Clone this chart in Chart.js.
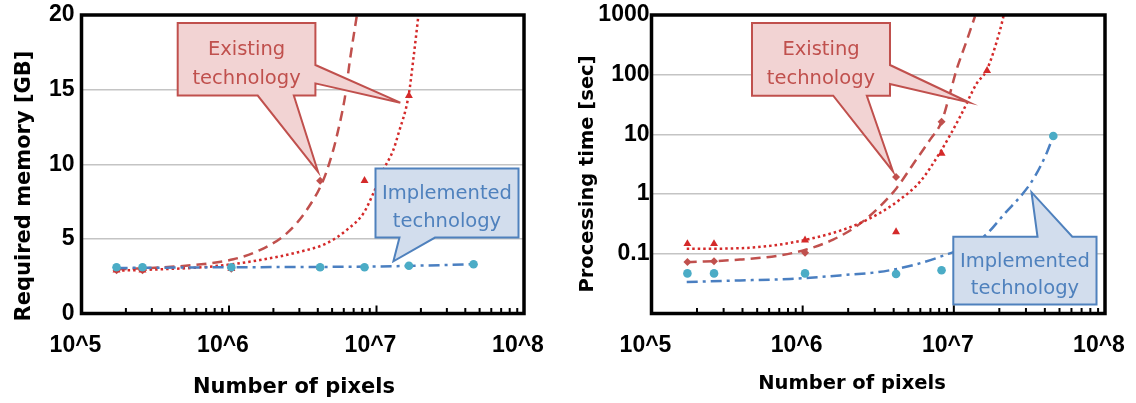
<!DOCTYPE html>
<html>
<head>
<meta charset="utf-8">
<script src="https://cdn.jsdelivr.net/npm/chart.js@4.4.1/dist/chart.umd.min.js"></script>
<style>
  html, body { margin: 0; padding: 0; background: #fff; }
  #wrap { position: relative; width: 1136px; height: 403px; }
  .pane { position: absolute; top: 0; height: 403px; }
  #left { left: 0; width: 560px; }
  #right { left: 560px; width: 576px; }
</style>
</head>
<body>
<div id="wrap">
  <div class="pane" id="left"><canvas id="chart1"></canvas></div>
  <div class="pane" id="right"><canvas id="chart2"></canvas></div>
</div>
<script>
/** Datos */

// numero de pixeles de cada prueba
const pixelCounts = [172800, 259200, 1036800, 4147200, 8294400, 16588800, 45500000];

// memoria requerida [GB]
const memImplemented = [3.1, 3.1, 3.1, 3.1, 3.1, 3.2, 3.3];          // todos los pixelCounts
const memExistingDiamond = [2.9, 2.9, 3.0, 8.9];                       // primeros 4
const memExistingTriangle = [2.9, 2.9, 3.0, 3.1, 8.9, 14.6];           // primeros 6

// tiempo de proceso [sec]
const timeImplementedX = [172800, 259200, 1036800, 4147200, 8294400, 45500000];
const timeImplemented = [0.047, 0.047, 0.047, 0.046, 0.053, 9.4];
const timeExistingDiamond = [0.073, 0.075, 0.104, 1.93, 16.3];         // primeros 5
const timeExistingTriangle = [0.147, 0.147, 0.169, 0.233, 4.8, 117];   // primeros 6

// lineas de tendencia (leidas punto a punto)
const memTrendDashX = [1.73e5, 2.62e5, 5.73e5, 1.07e6, 1.62e6, 2.46e6, 3.36e6, 4.36e6, 5.09e6, 5.37e6, 6.11e6, 6.61e6, 7.34e6];
const memTrendDash = [2.96, 3.03, 3.25, 3.63, 4.25, 5.37, 6.93, 8.94, 10.95, 11.85, 14.5, 17.0, 19.9];
const memTrendDotX = [1.73e5, 3.40e5, 7.43e5, 1.62e6, 3.03e6, 4.59e6, 6.28e6, 8.15e6, 9.52e6, 1.11e7, 1.30e7, 1.41e7, 1.65e7, 1.79e7, 1.92e7];
const memTrendDot = [2.87, 2.96, 3.14, 3.58, 4.14, 4.7, 5.6, 6.71, 8.05, 9.6, 10.95, 12.07, 14.6, 17.3, 19.9];
const memTrendDashDotX = [1.73e5, 1.04e6, 4.11e6, 1.30e7, 4.55e7];
const memTrendDashDot = [3.05, 3.1, 3.12, 3.17, 3.3];

const timeTrendDashX = [1.71e5, 3.85e5, 7.07e5, 1.06e6, 1.59e6, 2.27e6, 3.24e6, 4.19e6, 5.39e6, 6.95e6, 8.3e6, 9.18e6, 1.04e7, 1.22e7, 1.38e7];
const timeTrendDash = [0.072, 0.080, 0.094, 0.118, 0.173, 0.289, 0.62, 1.27, 3.2, 8.1, 16.3, 37.7, 119, 378, 950];
const timeTrendDotX = [1.71e5, 3.85e5, 7.07e5, 1.06e6, 1.59e6, 2.27e6, 3.24e6, 4.40e6, 5.96e6, 8.07e6, 1.10e7, 1.42e7, 1.65e7, 2.02e7, 2.14e7];
const timeTrendDot = [0.121, 0.124, 0.143, 0.173, 0.224, 0.308, 0.483, 0.81, 1.6, 4.9, 19.8, 72, 119, 556, 1000];
const timeTrendDashDotX = [1.71e5, 3.85e5, 8.24e5, 1.76e6, 3.78e6, 8.09e6, 1.56e7, 2.23e7, 2.88e7, 3.44e7, 4.11e7, 4.55e7];
const timeTrendDashDot = [0.0336, 0.0358, 0.038, 0.0435, 0.053, 0.089, 0.19, 0.51, 1.04, 1.98, 4.85, 9.4];

// ejes
const xTickValues = [1e5, 1e6, 1e7, 1e8];
const xTickLabels = ['10^5', '10^6', '10^7', '10^8'];
const memTickValues = [0, 5, 10, 15, 20];
const memTickLabels = ['0', '5', '10', '15', '20'];
const timeTickValues = [0.01, 0.1, 1, 10, 100, 1000];
const timeTickLabels = ['', '0.1', '1', '10', '100', '1000'];

/** Estilos */
const RED = '#c0504d';
const RED_DOT = '#d42a2a';
const BLUE = '#4a7fc1';
const CYAN = '#4bacc6';
const tickFont = { family: '"Liberation Sans", Arial, sans-serif', size: 23, weight: 'bold' };

const pts = (xs, ys) => ys.map((y, i) => ({ x: xs[i], y }));

function trend(data, color, dash, order) {
    return {
        data, showLine: true, borderColor: color, borderWidth: 2.5, borderDash: dash,
        pointRadius: 0, cubicInterpolationMode: 'monotone', order
    };
}
function markers(data, color, style, radius, order) {
    return {
        data, showLine: false, pointStyle: style, pointRadius: radius,
        backgroundColor: color, borderColor: color, borderWidth: 0, order
    };
}

// marcas menores del eje x (hacia adentro)
const minorX = [];
for (let e = 5; e < 8; e++) for (let m = 2; m < 10; m++) minorX.push(m * Math.pow(10, e));

function drawCallout(ctx, a, c) {
    const W = a.right - a.left, H = a.bottom - a.top;
    const px = f => a.left + f * W, py = f => a.top + f * H;
    const x0 = px(c.box[0]), y0 = py(c.box[1]), x1 = px(c.box[2]), y1 = py(c.box[3]);
    const tip = t => [px(t.tip[0]), py(t.tip[1])];
    const p = [[x0, y0]];
    c.tails.filter(t => t.edge === 'top').forEach(t => p.push([px(t.from), y0], tip(t), [px(t.to), y0]));
    p.push([x1, y0]);
    c.tails.filter(t => t.edge === 'right').forEach(t => p.push([x1, py(t.from)], tip(t), [x1, py(t.to)]));
    p.push([x1, y1]);
    c.tails.filter(t => t.edge === 'bottom').forEach(t => p.push([px(t.to), y1], tip(t), [px(t.from), y1]));
    p.push([x0, y1]);
    ctx.save();
    ctx.beginPath();
    p.forEach(([x, y], i) => i ? ctx.lineTo(x, y) : ctx.moveTo(x, y));
    ctx.closePath();
    ctx.fillStyle = c.fill;
    ctx.fill();
    ctx.lineWidth = 2;
    ctx.lineJoin = 'miter';
    ctx.strokeStyle = c.stroke;
    ctx.stroke();
    ctx.fillStyle = c.color;
    ctx.font = '19.5px "DejaVu Sans", sans-serif';
    ctx.textAlign = 'center';
    ctx.textBaseline = 'alphabetic';
    const cx = (x0 + x1) / 2, h = y1 - y0;
    ctx.fillText(c.lines[0], cx, y0 + 0.445 * h);
    ctx.fillText(c.lines[1], cx, y0 + 0.84 * h);
    ctx.restore();
}

const decorations = {
    id: 'decorations',
    afterDatasetsDraw(chart, args, opts) {
        opts.callouts.forEach(c => drawCallout(chart.ctx, chart.chartArea, c));
    },
    afterDraw(chart, args, opts) {
        const ctx = chart.ctx, a = chart.chartArea, xs = chart.scales.x;
        ctx.save();
        ctx.strokeStyle = '#000';
        ctx.lineWidth = 2;
        ctx.beginPath();
        minorX.forEach(v => {
            const x = xs.getPixelForValue(v);
            ctx.moveTo(x, a.bottom);
            ctx.lineTo(x, a.bottom - 5.5);
        });
        xTickValues.forEach(v => {
            const x = xs.getPixelForValue(v);
            ctx.moveTo(x, a.bottom);
            ctx.lineTo(x, a.bottom - 8);
        });
        ctx.stroke();
        ctx.lineWidth = 3.5;
        ctx.strokeRect(a.left, a.top, a.right - a.left, a.bottom - a.top);

        ctx.fillStyle = '#000';
        ctx.font = opts.titleFont;
        ctx.textAlign = 'center';
        ctx.textBaseline = 'middle';
        ctx.fillText(opts.xTitle.text, opts.xTitle.x, opts.xTitle.y);
        ctx.translate(opts.yTitle.x, opts.yTitle.y);
        ctx.rotate(-Math.PI / 2);
        ctx.fillText(opts.yTitle.text, 0, 0);
        ctx.restore();
    }
};

function makeScales(yScale, yWidth, yPad) {
    return {
        x: {
            type: 'logarithmic', min: 1e5, max: 1e8,
            afterBuildTicks: s => { s.ticks = xTickValues.map(value => ({ value })); },
            afterFit: s => { s.height = 89.5; s.paddingLeft = 0; s.paddingRight = 0; },
            grid: { display: false, drawTicks: false },
            border: { display: false },
            ticks: {
                font: tickFont, color: '#000', padding: 18, labelOffset: -6,
                maxRotation: 0, autoSkip: false,
                callback: (v, i) => xTickLabels[i]
            }
        },
        y: Object.assign({
            afterFit: s => { s.width = yWidth; s.paddingTop = 0; s.paddingBottom = 0; },
            grid: { color: '#c4c4c4', lineWidth: 1.5, drawTicks: false },
            border: { display: false }
        }, yScale, {
            ticks: Object.assign({ font: tickFont, color: '#000', padding: yPad, autoSkip: false }, yScale.ticks)
        })
    };
}

const existingLines = ['Existing', 'technology'];
const implementedLines = ['Implemented', 'technology'];
const redNote = { fill: '#f2d3d3', stroke: RED, color: RED, lines: existingLines };
const blueNote = { fill: '#d2dded', stroke: '#4f81bd', color: '#4f81bd', lines: implementedLines };

/** Grafica de memoria */
new Chart(document.getElementById('chart1'), {
    type: 'scatter',
    data: {
        datasets: [
            markers(pts(pixelCounts, memImplemented), CYAN, 'circle', 4.3, 1),
            trend(pts(memTrendDashDotX, memTrendDashDot), BLUE, [11, 5, 3, 5], 2),
            markers(pts(pixelCounts, memExistingTriangle), RED_DOT, 'triangle', 4.6, 3),
            markers(pts(pixelCounts, memExistingDiamond), RED, 'rectRot', 4, 4),
            trend(pts(memTrendDotX, memTrendDot), RED_DOT, [2.5, 3], 5),
            trend(pts(memTrendDashX, memTrendDash), RED, [10, 6], 6)
        ]
    },
    options: {
        responsive: true, maintainAspectRatio: false, animation: false,
        layout: { padding: { top: 15, right: 36, left: 0, bottom: 0 } },
        scales: makeScales({
            type: 'linear', min: 0, max: 20,
            afterBuildTicks: s => { s.ticks = memTickValues.map(value => ({ value })); },
            ticks: { callback: (v, i) => memTickLabels[i] }
        }, 81.5, 7),
        plugins: {
            legend: { display: false },
            tooltip: { enabled: false },
            decorations: {
                titleFont: 'bold 21px "DejaVu Sans", sans-serif',
                xTitle: { text: 'Number of pixels', x: 294, y: 388 },
                yTitle: { text: 'Required memory [GB]', x: 25, y: 186 },
                callouts: [
                    Object.assign({
                        box: [0.2174, 0.0268, 0.5286, 0.2697],
                        tails: [
                            { edge: 'right', from: 0.1675, to: 0.2291, tip: [0.7205, 0.2938] },
                            { edge: 'bottom', from: 0.3982, to: 0.4798, tip: [0.5345, 0.5253] }
                        ]
                    }, redNote),
                    Object.assign({
                        box: [0.6644, 0.5139, 0.9876, 0.7457],
                        tails: [{ edge: 'bottom', from: 0.7186, to: 0.7989, tip: [0.7049, 0.8251] }]
                    }, blueNote)
                ]
            }
        }
    },
    plugins: [decorations]
});

/** Grafica de tiempo de proceso */
new Chart(document.getElementById('chart2'), {
    type: 'scatter',
    data: {
        datasets: [
            markers(pts(timeImplementedX, timeImplemented), CYAN, 'circle', 4.3, 1),
            trend(pts(timeTrendDashDotX, timeTrendDashDot), BLUE, [11, 5, 3, 5], 2),
            markers(pts(pixelCounts, timeExistingTriangle), RED_DOT, 'triangle', 4.6, 3),
            markers(pts(pixelCounts, timeExistingDiamond), RED, 'rectRot', 4, 4),
            trend(pts(timeTrendDotX, timeTrendDot), RED_DOT, [2.5, 3], 5),
            trend(pts(timeTrendDashX, timeTrendDash), RED, [10, 6], 6)
        ]
    },
    options: {
        responsive: true, maintainAspectRatio: false, animation: false,
        layout: { padding: { top: 15, right: 31, left: 0, bottom: 0 } },
        scales: makeScales({
            type: 'logarithmic', min: 0.01, max: 1000,
            afterBuildTicks: s => { s.ticks = timeTickValues.map(value => ({ value })); },
            ticks: { callback: (v, i) => timeTickLabels[i] }
        }, 91.5, 2),
        plugins: {
            legend: { display: false },
            tooltip: { enabled: false },
            decorations: {
                titleFont: 'bold 19.5px "DejaVu Sans", sans-serif',
                xTitle: { text: 'Number of pixels', x: 292, y: 384 },
                yTitle: { text: 'Processing time [sec]', x: 27.5, y: 174 },
                callouts: [
                    Object.assign({
                        box: [0.2216, 0.0268, 0.5259, 0.2704],
                        tails: [
                            { edge: 'right', from: 0.1675, to: 0.2312, tip: [0.7006, 0.2931] },
                            { edge: 'bottom', from: 0.4007, to: 0.4748, tip: [0.5325, 0.5240] }
                        ]
                    }, redNote),
                    Object.assign({
                        box: [0.6655, 0.7430, 0.9813, 0.9702],
                        tails: [{ edge: 'top', from: 0.8512, to: 0.9279, tip: [0.8379, 0.5936] }]
                    }, blueNote)
                ]
            }
        }
    },
    plugins: [decorations]
});
</script>
</body>
</html>
